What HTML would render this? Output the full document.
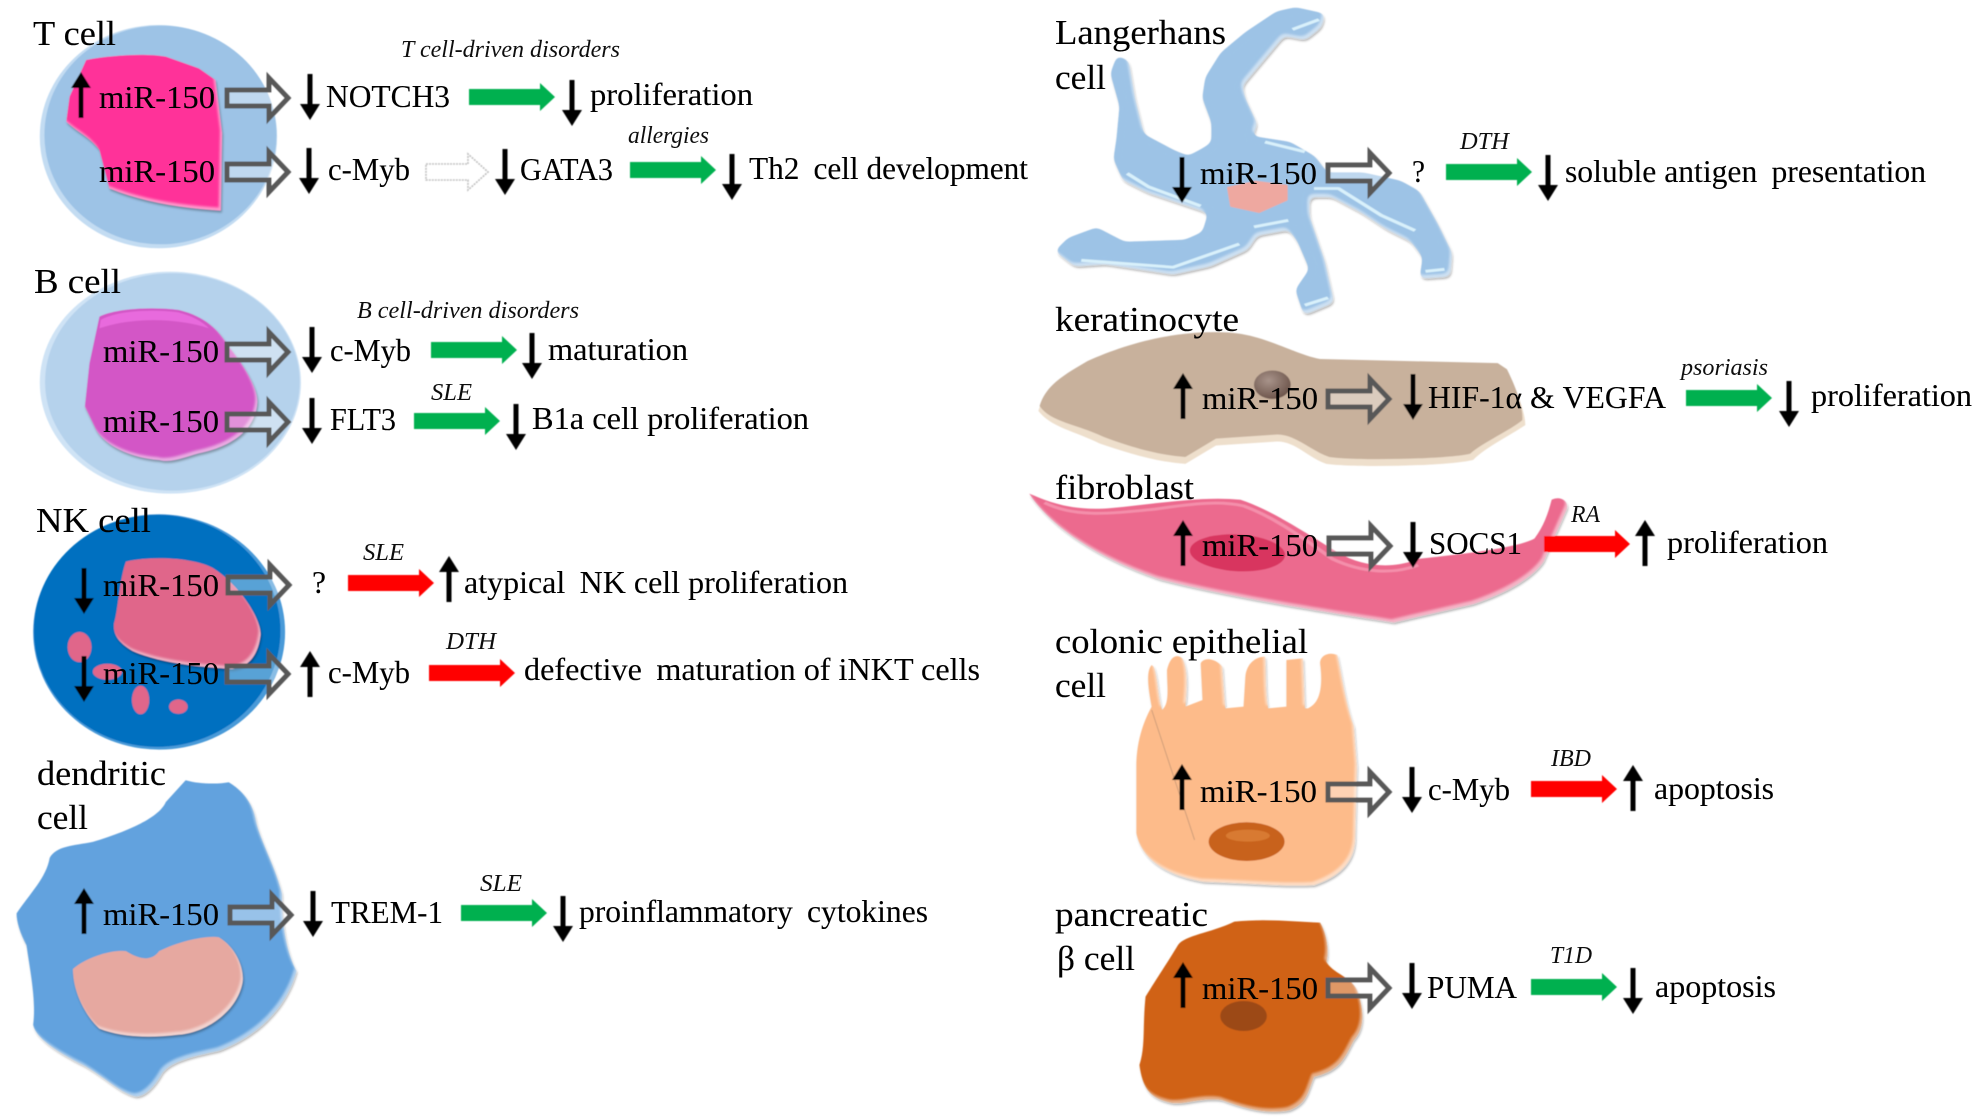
<!DOCTYPE html>
<html><head><meta charset="utf-8"><title>miR-150 in immune and other cell types</title>
<style>html,body{margin:0;padding:0;background:#fff}svg{display:block}
text{font-family:"Liberation Serif","Noto Serif CJK SC",serif;font-size:32px;fill:#000;stroke:#000;stroke-width:.1}
.l{font-size:35px}.i{font-style:italic;font-size:24px;fill:#111;stroke:none}</style></head><body>
<svg xmlns="http://www.w3.org/2000/svg" width="1980" height="1120" viewBox="0 0 1980 1120">
<defs>
<path id="d" d="M-2.5,0H2.5V30H10L0,46L-10,30H-2.5Z" fill="#000"/>
<path id="u" d="M-2.5,46H2.5V16H10L0,0L-10,16H-2.5Z" fill="#000"/>
<path id="g" d="M2,-8H44V-20L63,0L44,20V8H2Z" fill="#fff" fill-opacity=".35" stroke="#595959" stroke-width="5"/>
<path id="gr" d="M0,-8H71V-14L86,0L71,14V8H0Z" fill="#00b050"/>
<path id="r" d="M0,-8H71V-14L86,0L71,14V8H0Z" fill="#ff0000"/>
<filter id="b" x="-2%" y="-2%" width="104%" height="104%"><feGaussianBlur stdDeviation=".45"/></filter>
<filter id="bt" x="-2%" y="-2%" width="104%" height="104%"><feGaussianBlur stdDeviation=".3"/></filter>
<filter id="goo" x="-5%" y="-5%" width="110%" height="110%" color-interpolation-filters="sRGB">
<feGaussianBlur stdDeviation="3.5"/>
<feComponentTransfer><feFuncA type="linear" slope="14" intercept="-6.5"/></feComponentTransfer>
</filter>
<filter id="bev" x="-5%" y="-5%" width="110%" height="110%" color-interpolation-filters="sRGB">
<feOffset in="SourceAlpha" dx="1" dy="2" result="so"/>
<feGaussianBlur in="so" stdDeviation="1" result="sb"/>
<feFlood flood-color="#000" flood-opacity=".3"/>
<feComposite in2="sb" operator="in" result="shadow"/>
<feOffset in="SourceAlpha" dx="-2" dy="-3" result="o"/>
<feGaussianBlur in="o" stdDeviation="1" result="ob"/>
<feComposite in="SourceAlpha" in2="ob" operator="out" result="edge"/>
<feFlood flood-color="#fff" flood-opacity=".5"/>
<feComposite in2="edge" operator="in" result="hl"/>
<feMerge><feMergeNode in="shadow"/><feMergeNode in="SourceGraphic"/><feMergeNode in="hl"/></feMerge>
</filter>
<radialGradient id="kn" cx=".4" cy=".35" r=".7"><stop offset="0" stop-color="#a8938a"/><stop offset="1" stop-color="#6a5248"/></radialGradient>
</defs>
<g filter="url(#b)">
<g transform="scale(.663,.3333)">
<ellipse cx="239" cy="410" rx="179" ry="335" fill="#c3dcf2"/>
<ellipse cx="242" cy="405" rx="175" ry="328" fill="#9dc3e6"/>
</g>
<g filter="url(#bev)"><path transform="scale(.663,.3333)" d="M130,180C170,165 220,160 250,170L300,205L325,240L335,400L333,632C280,625 220,610 165,565L150,450C135,410 115,395 100,365L105,290Z" fill="#ff3399"/></g>
<g transform="scale(.663,.3333)">
<ellipse cx="257" cy="1148" rx="197" ry="333" fill="#cfe3f5"/>
<ellipse cx="260" cy="1146" rx="192" ry="326" fill="#b5d2ec"/>
</g>
<g filter="url(#bev)"><path transform="scale(.663,.3333)" d="M150,950C175,925 230,920 270,930C310,950 330,990 345,1040C370,1100 390,1170 388,1210C385,1290 350,1340 300,1360C280,1370 260,1390 240,1380C200,1375 160,1340 145,1290L128,1220L135,1090Z" fill="#d357c6"/></g>
<path transform="scale(.663,.3333)" d="M152,960C175,932 230,927 268,937C290,948 305,965 315,985C270,955 200,950 150,985Z" fill="#ee6fe2" opacity=".8"/>
<g transform="translate(0,500) scale(.663,.3975)">
<ellipse cx="240" cy="332" rx="190" ry="296" fill="#4a9ad8"/>
<ellipse cx="237" cy="329" rx="186" ry="292" fill="#0070c0"/>
<ellipse cx="120" cy="370" rx="18" ry="38" fill="#e0668a"/>
<ellipse cx="162" cy="432" rx="22" ry="20" fill="#e0668a"/>
<ellipse cx="212" cy="503" rx="13" ry="36" fill="#e0668a"/>
<ellipse cx="269" cy="520" rx="14" ry="18" fill="#e0668a"/>
</g>
<g filter="url(#bev)"><path transform="translate(0,500) scale(.663,.3975)" d="M190,155C230,140 290,145 320,170C360,210 395,300 393,340C390,380 380,420 350,425C300,420 240,410 200,380C180,360 170,340 172,310C178,280 180,200 190,155Z" fill="#e0668a"/></g>
<g filter="url(#bev)"><path transform="translate(0,500) scale(.663,.3975)" d="M280,705C300,715 330,715 345,710C365,730 380,760 385,800C390,850 415,920 425,990C425,1060 430,1130 447,1185C435,1260 400,1340 330,1385C290,1400 260,1410 245,1440C235,1470 220,1500 205,1500C180,1490 165,1460 130,1425C100,1400 55,1360 50,1320C55,1260 45,1180 40,1120C30,1090 25,1060 25,1040C45,990 70,950 75,900C85,870 110,870 140,860C190,835 240,800 250,760Z" fill="#62a2de"/></g>
<g filter="url(#bev)"><path transform="translate(0,500) scale(.663,.3975)" d="M110,1180C130,1150 170,1130 190,1135C200,1145 225,1170 240,1135C270,1110 310,1095 330,1100C360,1130 370,1190 365,1220C355,1290 310,1340 270,1345C220,1355 180,1350 150,1330C130,1300 110,1240 110,1180Z" fill="#e6a8a0"/></g>
<g filter="url(#bev)"><g filter="url(#goo)"><path transform="translate(1020,0) scale(.6125,.408)" d="M450,20L495,35L490,65L465,95L430,85L385,165L360,210L365,240L385,305L375,335L440,350L480,385L500,425L560,425L620,445L650,470L680,550L703,620L700,675L655,680L660,630L640,590L600,560L560,520L510,480L470,480L470,530L495,640L510,740L465,768L452,710L475,660L455,590L440,560L385,575L370,610L310,650L250,670L140,645L90,650L60,615L80,585L125,560L170,595L270,590L300,570L310,520L260,495L210,470L170,440L155,390L160,340L165,260L150,180L160,140L175,150L185,240L200,330L250,370L275,385L300,365L315,350L315,300L300,240L305,190L330,130L370,80L420,30Z" fill="#9dc3e6" stroke="#9dc3e6" stroke-width="5"/></g></g>
<g transform="translate(1020,0) scale(.6125,.408)" stroke-linejoin="round" fill="none">
<g stroke="#d9f1fb" stroke-width="7">
<path d="M175,425L210,458L295,505"/><path d="M100,638L250,655L358,598"/><path d="M480,462L520,462L590,528L645,565"/><path d="M382,556L438,540"/><path d="M400,348L465,372"/><path d="M662,665L693,660"/><path d="M465,748L503,730"/><path d="M445,72L488,48"/>
</g>
<path d="M340,460L385,445L435,455L435,490L390,520L345,505Z" fill="#eea8a0" stroke="#eea8a0" stroke-width="4"/>
<path transform="translate(0,7)" d="M30,1000C40,950 70,920 110,890C170,850 250,810 340,815C400,820 450,870 490,880L780,890L795,905C810,950 825,1000 825,1035C800,1060 760,1090 740,1120C700,1135 550,1140 500,1130C470,1115 450,1075 420,1075L320,1085L270,1130C220,1125 170,1100 130,1080C90,1050 50,1040 30,1000Z" fill="#eedfcc"/>
<path d="M32,995C42,945 70,920 110,885C170,845 250,808 340,815C400,820 450,870 490,880L780,890L795,905C810,950 822,1000 820,1030C800,1055 755,1085 735,1112C700,1125 550,1130 505,1120C475,1105 450,1065 420,1065L320,1075L270,1120C220,1115 170,1090 135,1070C95,1040 50,1035 32,995Z" fill="#c8b19c"/>
<ellipse cx="412" cy="943" rx="30" ry="35" fill="url(#kn)"/>
</g>
<g filter="url(#bev)"><path transform="translate(1020,0) scale(.6125,.408)" d="M15,1210C40,1225 80,1255 150,1245C220,1235 300,1215 360,1225C410,1250 460,1300 520,1355C560,1390 610,1395 650,1370C710,1360 810,1345 840,1320C855,1290 862,1260 868,1225C880,1215 895,1225 893,1245C880,1290 865,1340 855,1375C840,1410 800,1450 740,1480L610,1525C500,1500 350,1465 230,1420C150,1380 60,1310 15,1210Z" fill="#ec6a8e"/></g>
<path transform="translate(1020,0) scale(.6125,.408)" d="M40,1232C90,1270 150,1258 220,1248C290,1232 330,1228 365,1240C410,1265 450,1305 510,1370C560,1405 610,1408 650,1385" stroke="#f48fab" stroke-width="7" fill="none"/>
<ellipse transform="translate(1020,0) scale(.6125,.408) rotate(6 355 1355)" cx="355" cy="1355" rx="78" ry="45" fill="#d8355f"/>
<g filter="url(#bev)"><path transform="translate(1020,600) scale(.6125,.3333)" d="M215,195C205,215 210,270 215,320C200,370 190,430 190,500L190,700C200,790 250,830 300,845C380,850 430,860 480,855C520,830 545,790 547,720L550,500L545,380C530,300 525,220 518,165C505,155 490,165 490,190C495,260 490,310 470,325L465,325L462,175L435,180L435,320L405,325C400,270 402,200 400,170C385,170 370,190 368,230L365,320L335,325L330,200C320,175 300,170 295,190L298,300L270,320C272,270 275,210 265,175C255,160 245,170 240,210C240,260 245,310 232,330C225,290 225,230 218,200Z" fill="#fdbb8a"/></g>
<g transform="translate(1020,600) scale(.6125,.3333)">
<path d="M215,330L285,720" stroke="#c99a78" stroke-width="1.5" fill="none"/>
<ellipse cx="370" cy="725" rx="62" ry="58" fill="#c8621a"/>
<ellipse cx="372" cy="707" rx="36" ry="18" fill="#d87a32"/>
</g>
<g filter="url(#bev)"><path transform="translate(1020,600) scale(.6125,.3333)" d="M350,965C400,955 450,965 490,968C500,1000 505,1050 500,1085C510,1120 540,1130 550,1170C560,1220 565,1280 545,1320C530,1370 525,1410 480,1430C470,1470 470,1510 440,1530C400,1545 360,1520 330,1500C290,1490 265,1520 240,1505C210,1490 200,1460 195,1395C205,1340 200,1280 205,1190C225,1130 240,1090 258,1035C270,1005 310,1000 350,965Z" fill="#d06215"/></g>
<ellipse transform="translate(1020,600) scale(.6125,.3333)" cx="365" cy="1248" rx="38" ry="45" fill="#9c4a12"/>
<use href="#g" x="225" y="98"/><use href="#g" x="225" y="172"/><use href="#g" x="225" y="352"/><use href="#g" x="225" y="422"/><use href="#g" x="226" y="585"/><use href="#g" x="225" y="674"/><use href="#g" x="228" y="915"/>
<use href="#g" x="1326" y="173"/><use href="#g" x="1326" y="399"/><use href="#g" x="1327" y="546"/><use href="#g" x="1326" y="792"/><use href="#g" x="1326" y="988"/>
<path d="M426,164H468V154L488,172L468,190V180H426Z" fill="#fff" stroke="#bfbfbf" stroke-width="1.6" stroke-dasharray="2 1"/>
<use href="#gr" x="469" y="97"/><use href="#gr" x="630" y="170"/><use href="#gr" x="431" y="350"/><use href="#gr" x="414" y="421"/><use href="#gr" x="461" y="913"/><use href="#gr" x="1446" y="172"/><use href="#gr" x="1686" y="398"/><use href="#gr" x="1531" y="987"/>
<use href="#r" x="348" y="583"/><use href="#r" x="429" y="673"/><use href="#r" x="1544" y="544"/><use href="#r" x="1531" y="789"/>
<use href="#u" x="81" y="72"/><use href="#d" x="310" y="74"/><use href="#d" x="572" y="80"/><use href="#d" x="309" y="148"/><use href="#d" x="505" y="149"/><use href="#d" x="732" y="154"/><use href="#d" x="312" y="327"/><use href="#d" x="532" y="333"/><use href="#d" x="312" y="398"/><use href="#d" x="516" y="404"/>
<use href="#d" x="84" y="568"/><use href="#u" x="449" y="556"/><use href="#d" x="84" y="656"/><use href="#u" x="310" y="651"/><use href="#u" x="84" y="888"/><use href="#d" x="313" y="891"/><use href="#d" x="563" y="896"/>
<use href="#d" x="1182" y="157"/><use href="#d" x="1548" y="155"/><use href="#u" x="1183" y="373"/><use href="#d" x="1413" y="374"/><use href="#d" x="1789" y="381"/><use href="#u" x="1183" y="520"/><use href="#d" x="1413" y="522"/><use href="#u" x="1645" y="520"/>
<use href="#u" x="1182" y="764"/><use href="#d" x="1412" y="767"/><use href="#u" x="1633" y="765"/><use href="#u" x="1183" y="962"/><use href="#d" x="1412" y="963"/><use href="#d" x="1633" y="968"/>
</g>
<g filter="url(#bt)">
<text class="l" x="33" y="45" textLength="83" lengthAdjust="spacingAndGlyphs">T cell</text>
<text class="i" x="401" y="57" textLength="219" lengthAdjust="spacingAndGlyphs">T cell-driven disorders</text>
<text x="99" y="108" textLength="116" lengthAdjust="spacingAndGlyphs">miR-150</text>
<text x="326" y="107" textLength="124" lengthAdjust="spacingAndGlyphs">NOTCH3</text>
<text x="590" y="105" textLength="163" lengthAdjust="spacingAndGlyphs">proliferation</text>
<text class="i" x="628" y="143" textLength="81" lengthAdjust="spacingAndGlyphs">allergies</text>
<text x="99" y="182" textLength="116" lengthAdjust="spacingAndGlyphs">miR-150</text>
<text x="328" y="180" textLength="82" lengthAdjust="spacingAndGlyphs">c-Myb</text>
<text x="520" y="180" textLength="93" lengthAdjust="spacingAndGlyphs">GATA3</text>
<text x="749" y="179" textLength="279" lengthAdjust="spacingAndGlyphs">Th2&#160;&#8201;cell development</text>
<text class="l" x="34" y="293" textLength="87" lengthAdjust="spacingAndGlyphs">B cell</text>
<text class="i" x="357" y="318" textLength="222" lengthAdjust="spacingAndGlyphs">B cell-driven disorders</text>
<text x="103" y="362" textLength="116" lengthAdjust="spacingAndGlyphs">miR-150</text>
<text x="330" y="361" textLength="81" lengthAdjust="spacingAndGlyphs">c-Myb</text>
<text x="548" y="360" textLength="140" lengthAdjust="spacingAndGlyphs">maturation</text>
<text class="i" x="431" y="400" textLength="41" lengthAdjust="spacingAndGlyphs">SLE</text>
<text x="103" y="432" textLength="116" lengthAdjust="spacingAndGlyphs">miR-150</text>
<text x="330" y="430" textLength="66" lengthAdjust="spacingAndGlyphs">FLT3</text>
<text x="532" y="429" textLength="277" lengthAdjust="spacingAndGlyphs">B1a cell proliferation</text>
<text class="l" x="36" y="532" textLength="115" lengthAdjust="spacingAndGlyphs">NK cell</text>
<text class="i" x="363" y="560" textLength="41" lengthAdjust="spacingAndGlyphs">SLE</text>
<text x="103" y="596" textLength="116" lengthAdjust="spacingAndGlyphs">miR-150</text>
<text x="312" y="593" textLength="14" lengthAdjust="spacingAndGlyphs">?</text>
<text x="464" y="593" textLength="384" lengthAdjust="spacingAndGlyphs">atypical&#160;&#8201;NK cell proliferation</text>
<text class="i" x="446" y="649" textLength="50" lengthAdjust="spacingAndGlyphs">DTH</text>
<text x="103" y="684" textLength="116" lengthAdjust="spacingAndGlyphs">miR-150</text>
<text x="328" y="683" textLength="82" lengthAdjust="spacingAndGlyphs">c-Myb</text>
<text x="524" y="680" textLength="456" lengthAdjust="spacingAndGlyphs">defective&#160;&#8201;maturation of iNKT cells</text>
<text class="l" x="37" y="785" textLength="129" lengthAdjust="spacingAndGlyphs">dendritic</text>
<text class="l" x="37" y="829" textLength="51" lengthAdjust="spacingAndGlyphs">cell</text>
<text class="i" x="480" y="891" textLength="42" lengthAdjust="spacingAndGlyphs">SLE</text>
<text x="103" y="925" textLength="116" lengthAdjust="spacingAndGlyphs">miR-150</text>
<text x="331" y="923" textLength="112" lengthAdjust="spacingAndGlyphs">TREM-1</text>
<text x="579" y="922" textLength="349" lengthAdjust="spacingAndGlyphs">proinflammatory&#160;&#8201;cytokines</text>
<text class="l" x="1055" y="44" textLength="171" lengthAdjust="spacingAndGlyphs">Langerhans</text>
<text class="l" x="1055" y="89" textLength="51" lengthAdjust="spacingAndGlyphs">cell</text>
<text class="i" x="1460" y="149" textLength="49" lengthAdjust="spacingAndGlyphs">DTH</text>
<text x="1200" y="184" textLength="117" lengthAdjust="spacingAndGlyphs">miR-150</text>
<text x="1412" y="182" textLength="13" lengthAdjust="spacingAndGlyphs">?</text>
<text x="1565" y="182" textLength="361" lengthAdjust="spacingAndGlyphs">soluble antigen&#160;&#8201;presentation</text>
<text class="l" x="1055" y="331" textLength="184" lengthAdjust="spacingAndGlyphs">keratinocyte</text>
<text class="i" x="1681" y="375" textLength="87" lengthAdjust="spacingAndGlyphs">psoriasis</text>
<text x="1202" y="409" textLength="116" lengthAdjust="spacingAndGlyphs">miR-150</text>
<text x="1428" y="408" textLength="238" lengthAdjust="spacingAndGlyphs">HIF-1α &amp; VEGFA</text>
<text x="1811" y="406" textLength="161" lengthAdjust="spacingAndGlyphs">proliferation</text>
<text class="l" x="1055" y="499" textLength="139" lengthAdjust="spacingAndGlyphs">fibroblast</text>
<text class="i" x="1571" y="522" textLength="29" lengthAdjust="spacingAndGlyphs">RA</text>
<text x="1202" y="556" textLength="116" lengthAdjust="spacingAndGlyphs">miR-150</text>
<text x="1429" y="554" textLength="93" lengthAdjust="spacingAndGlyphs">SOCS1</text>
<text x="1667" y="553" textLength="161" lengthAdjust="spacingAndGlyphs">proliferation</text>
<text class="l" x="1055" y="653" textLength="253" lengthAdjust="spacingAndGlyphs">colonic epithelial</text>
<text class="l" x="1055" y="697" textLength="51" lengthAdjust="spacingAndGlyphs">cell</text>
<text class="i" x="1551" y="766" textLength="40" lengthAdjust="spacingAndGlyphs">IBD</text>
<text x="1200" y="802" textLength="117" lengthAdjust="spacingAndGlyphs">miR-150</text>
<text x="1428" y="800" textLength="82" lengthAdjust="spacingAndGlyphs">c-Myb</text>
<text x="1654" y="799" textLength="120" lengthAdjust="spacingAndGlyphs">apoptosis</text>
<text class="l" x="1055" y="926" textLength="153" lengthAdjust="spacingAndGlyphs">pancreatic</text>
<text class="i" x="1550" y="963" textLength="42" lengthAdjust="spacingAndGlyphs">T1D</text>
<text class="l" x="1057" y="970" textLength="78" lengthAdjust="spacingAndGlyphs">β cell</text>
<text x="1202" y="999" textLength="116" lengthAdjust="spacingAndGlyphs">miR-150</text>
<text x="1427" y="998" textLength="90" lengthAdjust="spacingAndGlyphs">PUMA</text>
<text x="1655" y="997" textLength="121" lengthAdjust="spacingAndGlyphs">apoptosis</text>
</g>
</svg>
</body></html>
